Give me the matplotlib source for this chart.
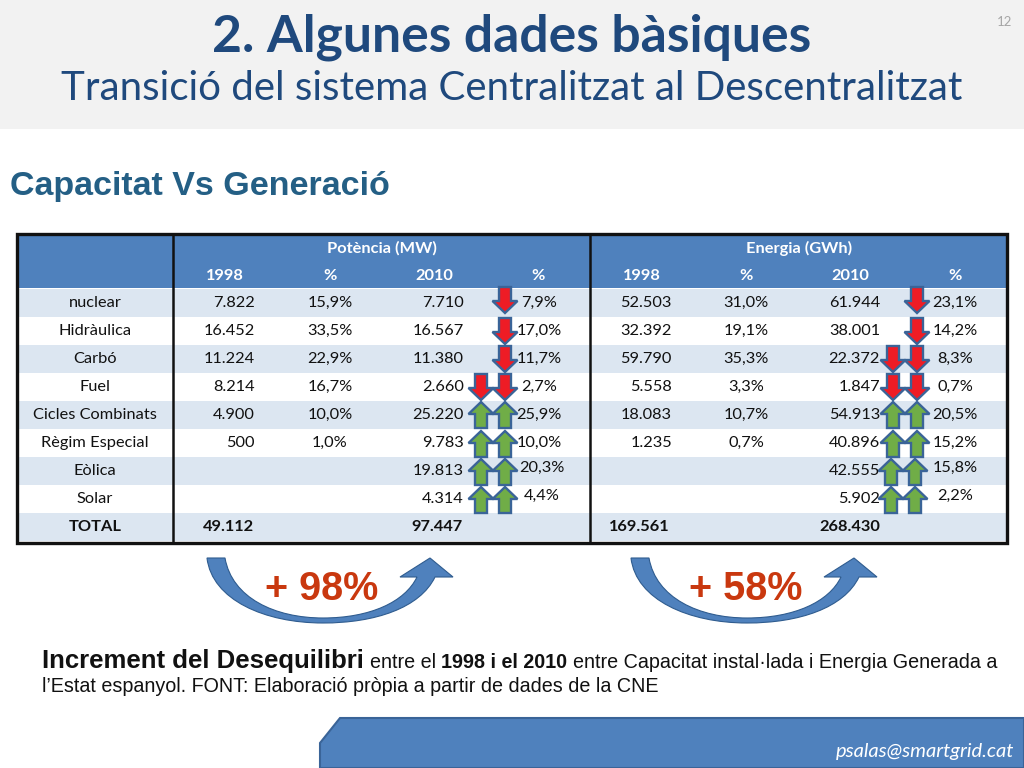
import matplotlib
matplotlib.use('Agg')
import matplotlib.pyplot as plt
from matplotlib.patches import Rectangle, Polygon, PathPatch
from matplotlib.path import Path

categories = ['nuclear', 'Hidràulica', 'Carbó', 'Fuel', 'Cicles Combinats',
              'Règim Especial', 'Eòlica', 'Solar']
mw_1998 = ['7.822', '16.452', '11.224', '8.214', '4.900', '500', '', '']
mw_1998_pct = ['15,9%', '33,5%', '22,9%', '16,7%', '10,0%', '1,0%', '', '']
mw_2010 = ['7.710', '16.567', '11.380', '2.660', '25.220', '9.783', '19.813', '4.314']
mw_2010_pct = ['7,9%', '17,0%', '11,7%', '2,7%', '25,9%', '10,0%', '20,3%', '4,4%']
gwh_1998 = ['52.503', '32.392', '59.790', '5.558', '18.083', '1.235', '', '']
gwh_1998_pct = ['31,0%', '19,1%', '35,3%', '3,3%', '10,7%', '0,7%', '', '']
gwh_2010 = ['61.944', '38.001', '22.372', '1.847', '54.913', '40.896', '42.555', '5.902']
gwh_2010_pct = ['23,1%', '14,2%', '8,3%', '0,7%', '20,5%', '15,2%', '15,8%', '2,2%']
totals = ['49.112', '97.447', '169.561', '268.430']

# arrows per row: 0 none, 1 up, -1 down
mw_abs_arrow = [0, 0, 0, -1, 1, 1, 1, 1]
mw_pct_arrow = [-1, -1, -1, -1, 1, 1, 1, 1]
gwh_abs_arrow = [0, 0, -1, -1, 1, 1, 1, 1]
gwh_pct_arrow = [-1, -1, -1, -1, 1, 1, 1, 1]

BLUE = '#4F81BD'
DARK = '#2F5C8F'
LIGHT = '#DCE6F1'
NAVY = '#1F497D'

fig = plt.figure(figsize=(10.24, 7.68), dpi=100)
ax = fig.add_axes([0, 0, 1, 1])
ax.set_xlim(0, 1024)
ax.set_ylim(768, 0)
ax.axis('off')

CAL = ['Lato', 'DejaVu Sans']
ARIAL = ['Liberation Sans', 'DejaVu Sans']


def block_arrow(x, yc, up=False):
    s = -1 if up else 1
    pts = [(x - 6, yc - 13 * s), (x + 6, yc - 13 * s), (x + 6, yc + 1 * s), (x + 12.5, yc + 1 * s),
           (x, yc + 13 * s), (x - 12.5, yc + 1 * s), (x - 6, yc + 1 * s)]
    ax.add_patch(Polygon(pts, closed=True, fc='#70AD47' if up else '#EE1C25',
                         ec='#3A6498', lw=1.7, zorder=5, joinstyle='miter'))


def swoosh(dx):
    verts = [(207 + dx, 558), (225 + dx, 558),
             (232 + dx, 598), (275 + dx, 618), (323 + dx, 618),
             (370 + dx, 618), (405 + dx, 602), (417 + dx, 577),
             (400 + dx, 577), (430 + dx, 558), (453 + dx, 577), (435 + dx, 577),
             (420 + dx, 608), (375 + dx, 623), (323 + dx, 623),
             (265 + dx, 623), (212 + dx, 600), (207 + dx, 558), (207 + dx, 558)]
    codes = [Path.MOVETO, Path.LINETO,
             Path.CURVE4, Path.CURVE4, Path.CURVE4,
             Path.CURVE4, Path.CURVE4, Path.CURVE4,
             Path.LINETO, Path.LINETO, Path.LINETO, Path.LINETO,
             Path.CURVE4, Path.CURVE4, Path.CURVE4,
             Path.CURVE4, Path.CURVE4, Path.CURVE4, Path.CLOSEPOLY]
    ax.add_patch(PathPatch(Path(verts, codes), fc=BLUE, ec=DARK, lw=0.8, zorder=3))


# header band
ax.add_patch(Rectangle((0, 0), 1024, 129, fc='#F2F2F2', ec='none'))
ax.text(512, 37, '2. Algunes dades bàsiques', ha='center', va='center', fontsize=37.2,
        fontweight='bold', color=NAVY, family=CAL)
ax.text(512, 89, 'Transició del sistema Centralitzat al Descentralitzat', ha='center', va='center',
        fontsize=29, color=NAVY, family=CAL)
ax.text(1005, 22, '12', ha='center', va='center', fontsize=9.5, color='#A6A6A6', family=CAL)
ax.text(10, 187, 'Capacitat Vs Generació', ha='left', va='center', fontsize=24.5,
        fontweight='bold', color='#245F85', family=ARIAL)

# table
ax.add_patch(Rectangle((17, 234), 990, 54, fc=BLUE, ec='none'))
row_h = 28
y0 = 289
for i in range(9):
    fc = LIGHT if i % 2 == 0 else 'white'
    ax.add_patch(Rectangle((17, y0 + i * row_h), 990, row_h, fc=fc, ec='none'))
ax.add_patch(Rectangle((17, 233.5), 990, 309.5, fc='none', ec='#111111', lw=2.4, zorder=4))
for x in (173, 590):
    ax.plot([x, x], [234, 543], color='#111111', lw=1.8, zorder=4)

FS = 11.8
ax.text(382, 248, 'Potència (MW)', ha='center', va='center', fontsize=FS, fontweight='bold',
        color='white', family=CAL)
ax.text(799, 248, 'Energia (GWh)', ha='center', va='center', fontsize=FS, fontweight='bold',
        color='white', family=CAL)
head_x = [225, 330, 434, 538, 642, 746, 850, 955]
head_lab = ['1998', '%', '2010', '%', '1998', '%', '2010', '%']
for x, lab in zip(head_x, head_lab):
    ax.text(x, 276, lab, ha='center', va='center', fontsize=FS, fontweight='bold',
            color='white', family=CAL)


def cell(x, y, s, ha='center', **kw):
    ax.text(x, y, s, ha=ha, va='center', fontsize=FS, color='#111111', family=CAL, zorder=6, **kw)


for i, name in enumerate(categories):
    y = y0 + 14 + i * row_h
    cell(95, y, name)
    cell(255, y, mw_1998[i], ha='right')
    cell(330, y, mw_1998_pct[i])
    cell(464, y, mw_2010[i], ha='right')
    dy = -3 if i >= 6 else 0
    cell(539 + (3 if i >= 6 else 0), y + dy, mw_2010_pct[i])
    cell(672, y, gwh_1998[i], ha='right')
    cell(746, y, gwh_1998_pct[i])
    cell(880, y, gwh_2010[i], ha='right')
    cell(955, y + dy, gwh_2010_pct[i])

    ay = y - 3 if i == 0 else y + (1 if i >= 5 else 0)
    if mw_abs_arrow[i]:
        block_arrow(481, ay, up=mw_abs_arrow[i] > 0)
    if mw_pct_arrow[i]:
        block_arrow(505, ay, up=mw_pct_arrow[i] > 0)
    shift = -2 if i >= 6 else 0
    if gwh_abs_arrow[i]:
        block_arrow(893 + shift, ay, up=gwh_abs_arrow[i] > 0)
    if gwh_pct_arrow[i]:
        block_arrow(917 + shift, ay, up=gwh_pct_arrow[i] > 0)

yt = y0 + 14 + 8 * row_h
cell(95, yt, 'TOTAL', fontweight='bold')
cell(254, yt, totals[0], ha='right', fontweight='bold')
cell(462, yt, totals[1], ha='right', fontweight='bold')
cell(670, yt, totals[2], ha='right', fontweight='bold')
cell(880, yt, totals[3], ha='right', fontweight='bold')

# growth arrows
swoosh(0)
swoosh(424)
ax.text(322, 589, '+ 98%', ha='center', va='center', fontsize=28.5, fontweight='bold',
        color='#C9380F', family=ARIAL, zorder=6)
ax.text(746, 589, '+ 58%', ha='center', va='center', fontsize=28.5, fontweight='bold',
        color='#C9380F', family=ARIAL, zorder=6)

# caption
ax.text(42, 661, 'Increment del Desequilibri', ha='left', va='center', fontsize=18.5,
        fontweight='bold', color='#111111', family=ARIAL)
ax.text(370, 662, 'entre el', ha='left', va='center', fontsize=14.25, color='#111111', family=ARIAL)
ax.text(441, 662, '1998 i el 2010', ha='left', va='center', fontsize=14.25, fontweight='bold',
        color='#111111', family=ARIAL)
ax.text(573, 662, 'entre Capacitat instal·lada i Energia Generada a', ha='left', va='center',
        fontsize=14.25, color='#111111', family=ARIAL)
ax.text(42, 687, 'l’Estat espanyol. FONT: Elaboració pròpia a partir de dades de la CNE', ha='left',
        va='center', fontsize=14.25, color='#111111', family=ARIAL)

# footer tab
ax.add_patch(Polygon([(320, 768), (320, 743), (340, 718), (1024, 718), (1024, 768)], closed=True,
                     fc=BLUE, ec='#3A6498', lw=1.5))
ax.text(1014, 752, 'psalas@smartgrid.cat', ha='right', va='center', fontsize=14.5, style='italic',
        color='white', family=CAL)

fig.savefig('out.png', dpi=100)
